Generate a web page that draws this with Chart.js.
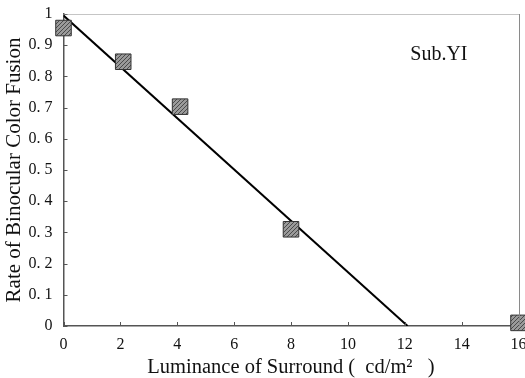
<!DOCTYPE html>
<html>
<head>
<meta charset="utf-8">
<script src="https://cdn.jsdelivr.net/npm/chart.js@4/dist/chart.umd.min.js"></script>
<style>
  html, body { margin: 0; padding: 0; background: #fff; }
  #wrap { width: 525px; height: 378px; position: relative; }
</style>
</head>
<body>
<div id="wrap"><canvas id="c"></canvas></div>
<script>
// Measured fusion rate at each surround luminance
const luminance = [0, 2.1, 4.1, 8, 16];
const fusionRate = [0.955, 0.847, 0.703, 0.31, 0.01];

// Fitted regression line end points
const fitX = [0, 12.1];
const fitY = [0.995, 0];

// Axis tick labels
const xTickLabels = ['0', '2', '4', '6', '8', '10', '12', '14', '16'];
const yTickLabels = ['0', '0. 1', '0. 2', '0. 3', '0. 4', '0. 5', '0. 6', '0. 7', '0. 8', '0. 9', '1'];

const subjectLabel = 'Sub.YI';
const xTitle = 'Luminance of Surround (  cd/m\u00B2   )';
const yTitle = 'Rate of Binocular Color Fusion';

const SERIF = "'Liberation Serif', 'DejaVu Serif', serif";

// Hatched grey fill for the square markers
function hatchPattern() {
  const p = document.createElement('canvas');
  p.width = 4; p.height = 4;
  const g = p.getContext('2d');
  g.fillStyle = '#9a9a9a';
  g.fillRect(0, 0, 4, 4);
  g.strokeStyle = '#4a4a4a';
  g.lineWidth = 1;
  g.beginPath();
  g.moveTo(0, 4); g.lineTo(4, 0);
  g.moveTo(-1, 1); g.lineTo(1, -1);
  g.moveTo(3, 5); g.lineTo(5, 3);
  g.stroke();
  return g.createPattern(p, 'repeat');
}

// Inward tick marks, top/right frame and the subject label
const framePlugin = {
  id: 'frame',
  afterDatasetsDraw(chart) {
    const { ctx, chartArea: a, scales: { x, y } } = chart;
    ctx.save();
    ctx.strokeStyle = '#555';
    ctx.lineWidth = 1;
    ctx.beginPath();
    x.ticks.forEach(t => {
      const px = Math.round(x.getPixelForValue(t.value)) + 0.5;
      ctx.moveTo(px, a.bottom);
      ctx.lineTo(px, a.bottom - 4);
    });
    y.ticks.forEach(t => {
      const py = Math.round(y.getPixelForValue(t.value)) + 0.5;
      ctx.moveTo(a.left, py);
      ctx.lineTo(a.left + 4, py);
    });
    ctx.stroke();

    // dotted top edge
    ctx.strokeStyle = '#8a8a8a';
    ctx.setLineDash([1, 1]);
    ctx.beginPath();
    ctx.moveTo(a.left, Math.round(a.top) + 0.5);
    ctx.lineTo(a.right, Math.round(a.top) + 0.5);
    ctx.stroke();
    // thin right edge
    ctx.setLineDash([]);
    ctx.beginPath();
    ctx.moveTo(Math.round(a.right) + 0.5, a.top);
    ctx.lineTo(Math.round(a.right) + 0.5, a.bottom);
    ctx.stroke();

    ctx.fillStyle = '#111';
    ctx.font = '20px ' + SERIF;
    ctx.textAlign = 'center';
    ctx.textBaseline = 'middle';
    ctx.fillText(subjectLabel, x.getPixelForValue(13.2), y.getPixelForValue(0.87));
    ctx.restore();
  }
};

const tickFont = { family: SERIF, size: 16 };

new Chart(document.getElementById('c'), {
  type: 'scatter',
  data: {
    datasets: [
      {
        data: luminance.map((v, i) => ({ x: v, y: fusionRate[i] })),
        pointStyle: 'rect',
        pointRadius: 11,
        pointHoverRadius: 11,
        pointBackgroundColor: hatchPattern(),
        pointBorderColor: '#333',
        pointBorderWidth: 1,
        showLine: false,
        clip: false
      },
      {
        type: 'line',
        data: fitX.map((v, i) => ({ x: v, y: fitY[i] })),
        borderColor: '#000',
        borderWidth: 2,
        pointRadius: 0,
        fill: false
      }
    ]
  },
  options: {
    responsive: true,
    maintainAspectRatio: false,
    animation: false,
    events: [],
    layout: { autoPadding: false, padding: { left: 0, top: 0, bottom: 0, right: 6.5 } },
    plugins: { legend: { display: false }, tooltip: { enabled: false } },
    scales: {
      x: {
        type: 'linear',
        min: 0, max: 16,
        grid: { display: false, drawTicks: false },
        border: { display: true, color: '#555', width: 1.5 },
        ticks: {
          stepSize: 2,
          padding: 9,
          color: '#111',
          font: tickFont,
          maxRotation: 0,
          callback: (v) => xTickLabels[Math.round(v / 2)]
        },
        title: {
          display: true,
          text: xTitle,
          color: '#111',
          font: { family: SERIF, size: 20.5, lineHeight: 1 },
          padding: { top: 0, bottom: 0 }
        },
        afterFit(s) { s.height = 52; s.paddingLeft = 0; s.paddingRight = 0; }
      },
      y: {
        type: 'linear',
        min: 0, max: 1,
        grid: { display: false, drawTicks: false },
        border: { display: true, color: '#555', width: 1.5 },
        ticks: {
          stepSize: 0.1,
          padding: 11,
          color: '#111',
          font: tickFont,
          callback: (v) => yTickLabels[Math.round(v * 10)]
        },
        title: {
          display: true,
          text: yTitle,
          color: '#111',
          font: { family: SERIF, size: 21, lineHeight: 1.2 },
          padding: { top: 2, bottom: 0 }
        },
        afterFit(s) { s.width = 63.5; s.paddingTop = 14; s.paddingBottom = 0; }
      }
    }
  },
  plugins: [framePlugin]
});
</script>
</body>
</html>
